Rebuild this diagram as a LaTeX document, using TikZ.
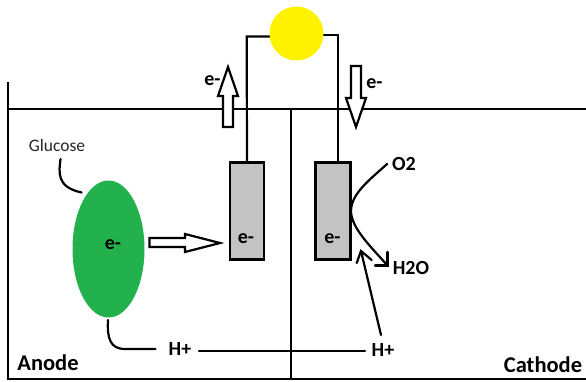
\documentclass[tikz,border=0pt]{standalone}
\usepackage{fontspec}
\setmainfont{Carlito}
\usetikzlibrary{shapes.geometric}
\definecolor{lampyellow}{RGB}{255,242,0}
\definecolor{glucgreen}{RGB}{34,177,76}
\definecolor{elecgrey}{RGB}{195,195,195}
\tikzset{
  wire/.style={line width=2.2pt,black},
  thinwire/.style={line width=2.2pt,black,line cap=round},
  electrode/.style={draw=black,line width=2.2pt,fill=elecgrey,minimum width=34pt,minimum height=97pt,inner sep=0pt,outer sep=0pt},
  blockarrow/.style={draw=black,line width=2.2pt,fill=white,line join=miter,miter limit=10},
  lab/.style={font=\fontsize{20}{20}\selectfont\bfseries,inner sep=0pt,text=black},
  biglab/.style={font=\fontsize{22.5}{23}\selectfont\bfseries,inner sep=0pt,text=black}
}
\begin{document}
\begin{tikzpicture}[x=1pt,y=-1pt]
\useasboundingbox (0,0) rectangle (586,381);
\fill[white] (0,0) rectangle (586,381);
% tank
\coordinate (tl) at (8,82);
\coordinate (bl) at (8,379);
\coordinate (br) at (586,379);
\coordinate (ml) at (8,109);
\coordinate (mr) at (586,109);
\coordinate (dt) at (291,109);
\coordinate (db) at (291,379);
\draw[wire] (tl) -- (bl) -- (br);
\draw[wire] (ml) -- (mr);
\draw[wire] (dt) -- (db);
% electrodes
\node[electrode] (ea) at (247,211) {};
\node[electrode,minimum width=35pt] (ec) at (333,211) {};
% lamp
\coordinate (wl) at (271,36.5);
\coordinate (wlc) at (246.7,36.5);
\coordinate (wr) at (323,35);
\coordinate (wrc) at (338,35);
\coordinate (wrb) at (338,163);
\draw[wire] (wl) -- (wlc) -- (ea.north);
\draw[wire] (wr) -- (wrc) -- (wrb);
\node[circle,fill=lampyellow,minimum size=54pt,inner sep=0pt] (lamp) at (296.5,33.5) {};
% glucose
\node[ellipse,fill=glucgreen,minimum width=72pt,minimum height=137pt,inner sep=0pt] (gl) at (108.5,249) {};
% block arrows
\draw[blockarrow] (223,127) -- (233,127) -- (233,96) -- (238,96) -- (228,67) -- (218,96) -- (223,96) -- cycle;
\draw[blockarrow] (351,66) -- (361,66) -- (361,98) -- (366,98) -- (356,127) -- (346,98) -- (351,98) -- cycle;
\draw[blockarrow] (149.5,238) -- (185,238) -- (185,234) -- (220,243) -- (185,252) -- (185,247) -- (149.5,247) -- cycle;
% labels
\node[lab] (e1) at (212.5,80.5) {e-};
\node[lab] (e2) at (374.5,84) {e-};
\node[lab] (e3) at (246,239) {e-};
\node[lab] (e4) at (332.5,239) {e-};
\node[lab] (e5) at (113,245) {e-};
\node[inner sep=0pt,font=\fontsize{17.5}{18}\selectfont,text=black!85] (g) at (57,145) {Glucose};
\node[lab] (o2) at (404,164) {O2};
\node[lab] (h2o) at (411,268) {H2O};
\node[lab] (h1) at (180,349.5) {H+};
\node[lab] (h2) at (383,350) {H+};
\node[biglab] (an) at (48,363) {Anode};
\node[biglab] (ca) at (543,365) {Cathode};
% connectors
\coordinate (gs) at (60.5,159);
\coordinate (ge) at (81.5,192.5);
\draw[thinwire] (gs) .. controls (59,172) and (56,187) .. (ge);
\coordinate (hs) at (108,320);
\coordinate (he) at (155.5,349);
\draw[thinwire] (hs) .. controls (107,338) and (110,349) .. (125,349) -- (he);
\coordinate (ls) at (199,351);
\coordinate (le) at (365,351);
\draw[thinwire] (ls) -- (le);
\coordinate (os) at (387,164);
\coordinate (ov) at (351,211);
\coordinate (ot) at (387.5,265.5);
\coordinate (oa) at (387.5,252);
\coordinate (ob) at (375,265.5);
\draw[thinwire] (os) .. controls (372,178) and (351,193) .. (ov) .. controls (351,228) and (372,248) .. (ot);
\draw[thinwire] (oa) -- (ot) -- (ob);
\coordinate (hb) at (381,335);
\coordinate (ht) at (361,251);
\coordinate (ha) at (356.7,263);
\coordinate (hc) at (371.7,260);
\draw[thinwire] (hb) -- (ht);
\draw[thinwire] (ha) -- (ht) -- (hc);
\end{tikzpicture}
\end{document}
